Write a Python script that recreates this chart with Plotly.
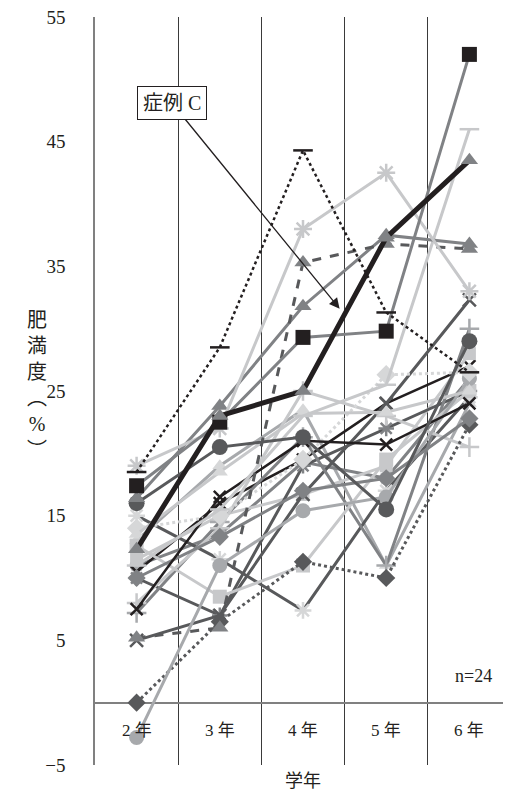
import plotly.graph_objects as go

# ---------------- data ----------------
grades = ["2 年", "3 年", "4 年", "5 年", "6 年"]
y_ticks = [-5, 5, 15, 25, 35, 45, 55]

s01 = [18.5, 28.5, 44.3, 31.3, 26.5]
s02 = [17.4, 22.5, 29.3, 29.8, 52.0]
s03 = [12.3, 23.0, 25.0, 37.3, 43.5]   # 症例C
s04 = [19.0, 22.0, 38.0, 42.5, 33.0]
s05 = [5.2, 6.0, 35.3, 36.8, 36.4]
s06 = [16.4, 23.8, 31.8, 37.5, 36.8]
s07 = [16.0, 20.5, 21.3, 15.5, 29.0]
s08 = [11.0, 15.5, 23.0, 25.5, 46.0]
s09 = [13.5, 18.5, 23.2, 23.3, 25.0]
s10 = [7.5, 16.5, 21.0, 20.7, 24.0]
s11 = [14.0, 15.0, 19.5, 26.3, 26.5]
s12 = [10.0, 13.3, 17.0, 18.0, 22.8]
s13 = [-2.8, 11.0, 15.4, 16.5, 26.0]
s14 = [0.0, 6.5, 11.3, 10.0, 22.3]
s15 = [12.6, 8.5, 11.0, 19.5, 25.0]
s16 = [8.0, 14.0, 25.0, 23.0, 20.5]
s17 = [7.2, 14.5, 21.3, 11.0, 30.0]
s18 = [5.0, 7.0, 16.7, 24.0, 32.3]
s19 = [15.0, 11.5, 7.4, 17.0, 24.5]
s20 = [10.0, 7.0, 19.0, 22.0, 25.0]
s21 = [11.5, 15.0, 16.7, 19.0, 28.0]
s22 = [10.5, 16.0, 19.5, 24.0, 27.0]
s23 = [11.0, 13.5, 19.3, 18.0, 26.0]
s24 = [13.0, 19.0, 23.5, 11.0, 24.0]

n_label = "n=24"
case_label = "症例 C"
y_title = "肥<br>満<br>度<br>︵<br>%<br>︶"

# ---------------- styles ----------------
BK = "#231f20"
DK = "#58595b"
GR = "#808285"
MG = "#a7a9ac"
LG = "#c7c8ca"
XL = "#d6d7d8"

series = [
    # (values, line color, width, dash, symbol, marker color, size)
    (s24, MG, 3, "solid", "triangle-up", XL, 13),
    (s23, GR, 3, "solid", "circle", MG, 14),
    (s22, BK, 2.5, "solid", "x-thin-open", BK, 12),
    (s21, LG, 3, "solid", "square", LG, 13),
    (s20, DK, 3, "solid", "asterisk-open", GR, 13),
    (s19, DK, 3, "solid", "asterisk-open", XL, 14),
    (s18, DK, 3, "solid", "x-thin-open", DK, 13),
    (s17, GR, 3, "solid", "cross-thin-open", MG, 14),
    (s16, LG, 3, "solid", "cross-thin-open", LG, 14),
    (s15, LG, 3, "solid", "square", LG, 14),
    (s14, DK, 3, "dot", "diamond", DK, 14),
    (s13, MG, 3, "solid", "circle", MG, 15),
    (s12, GR, 3, "solid", "diamond", GR, 14),
    (s11, XL, 3, "dot", "diamond", XL, 15),
    (s10, BK, 2.5, "solid", "x-thin-open", BK, 12),
    (s09, LG, 3, "solid", "triangle-up", XL, 14),
    (s08, LG, 3, "solid", "line-ew-open", LG, 14),
    (s07, DK, 3, "solid", "circle", DK, 16),
    (s06, GR, 3, "solid", "triangle-up", GR, 15),
    (s05, DK, 3, "dash", "triangle-up", GR, 15),
    (s04, LG, 3, "solid", "asterisk-open", LG, 15),
    (s02, GR, 3, "solid", "square", BK, 15),
    (s01, BK, 2.5, "dot", "line-ew-open", BK, 14),
    (s03, BK, 5, "solid", "triangle-up", GR, 15),
]

xs = list(range(len(grades)))

fig = go.Figure()
for vals, lc, lw, dash, sym, mc, ms in series:
    openish = sym.endswith("-open")
    fig.add_trace(go.Scatter(
        x=xs, y=vals, mode="lines+markers",
        line=dict(color=lc, width=lw, dash=dash),
        marker=dict(symbol=sym, color=mc, size=ms,
                    line=dict(color=mc, width=2.5 if openish else 0)),
        showlegend=False, hoverinfo="skip",
    ))

serif = "Liberation Serif, Noto Sans CJK JP, serif"

# category labels inside plot just below the zero line
for i, g in enumerate(grades):
    fig.add_annotation(x=i, y=-2.2, text=g, showarrow=False,
                       font=dict(family=serif, size=17, color=BK))

fig.add_annotation(x=4.05, y=2.1, text=n_label, showarrow=False,
                   font=dict(family=serif, size=18, color=BK))

fig.add_annotation(x=0.5, xref="paper", y=-0.021, yref="paper",
                   text="学年", showarrow=False, yanchor="middle",
                   font=dict(family=serif, size=18, color=BK))

# vertical y-axis title
fig.add_annotation(x=-0.168, xref="paper", y=0.508, yref="paper",
                   text=y_title, showarrow=False, yanchor="middle",
                   font=dict(family=serif, size=20, color=BK))

# callout
fig.add_annotation(x=2.44, y=31.6, ax=0.425, ay=48.1, axref="x", ayref="y",
                   text=case_label, showarrow=True,
                   arrowhead=2, arrowsize=1.6, arrowwidth=1.3, arrowcolor=BK,
                   bgcolor="white", bordercolor=BK, borderwidth=1, borderpad=5,
                   font=dict(family=serif, size=20, color=BK))

fig.update_layout(
    width=503, height=791,
    margin=dict(l=87, r=0, t=9, b=34),
    paper_bgcolor="white", plot_bgcolor="white",
    xaxis=dict(range=[-0.5, 4.5], tickvals=[0.5, 1.5, 2.5, 3.5],
               showticklabels=False, ticks="", showgrid=True,
               gridcolor="#3a3a3a", gridwidth=1, zeroline=False,
               showline=False),
    yaxis=dict(range=[-5, 55], tickvals=y_ticks, ticks="",
               showgrid=False, zeroline=True, zerolinecolor="#808080",
               zerolinewidth=1.5, showline=True, linecolor="#808080",
               linewidth=1.5, ticklabelstandoff=24,
               ticklabeloverflow="allow",
               tickfont=dict(family=serif, size=19, color=BK)),
)

fig.write_html("out.html")
